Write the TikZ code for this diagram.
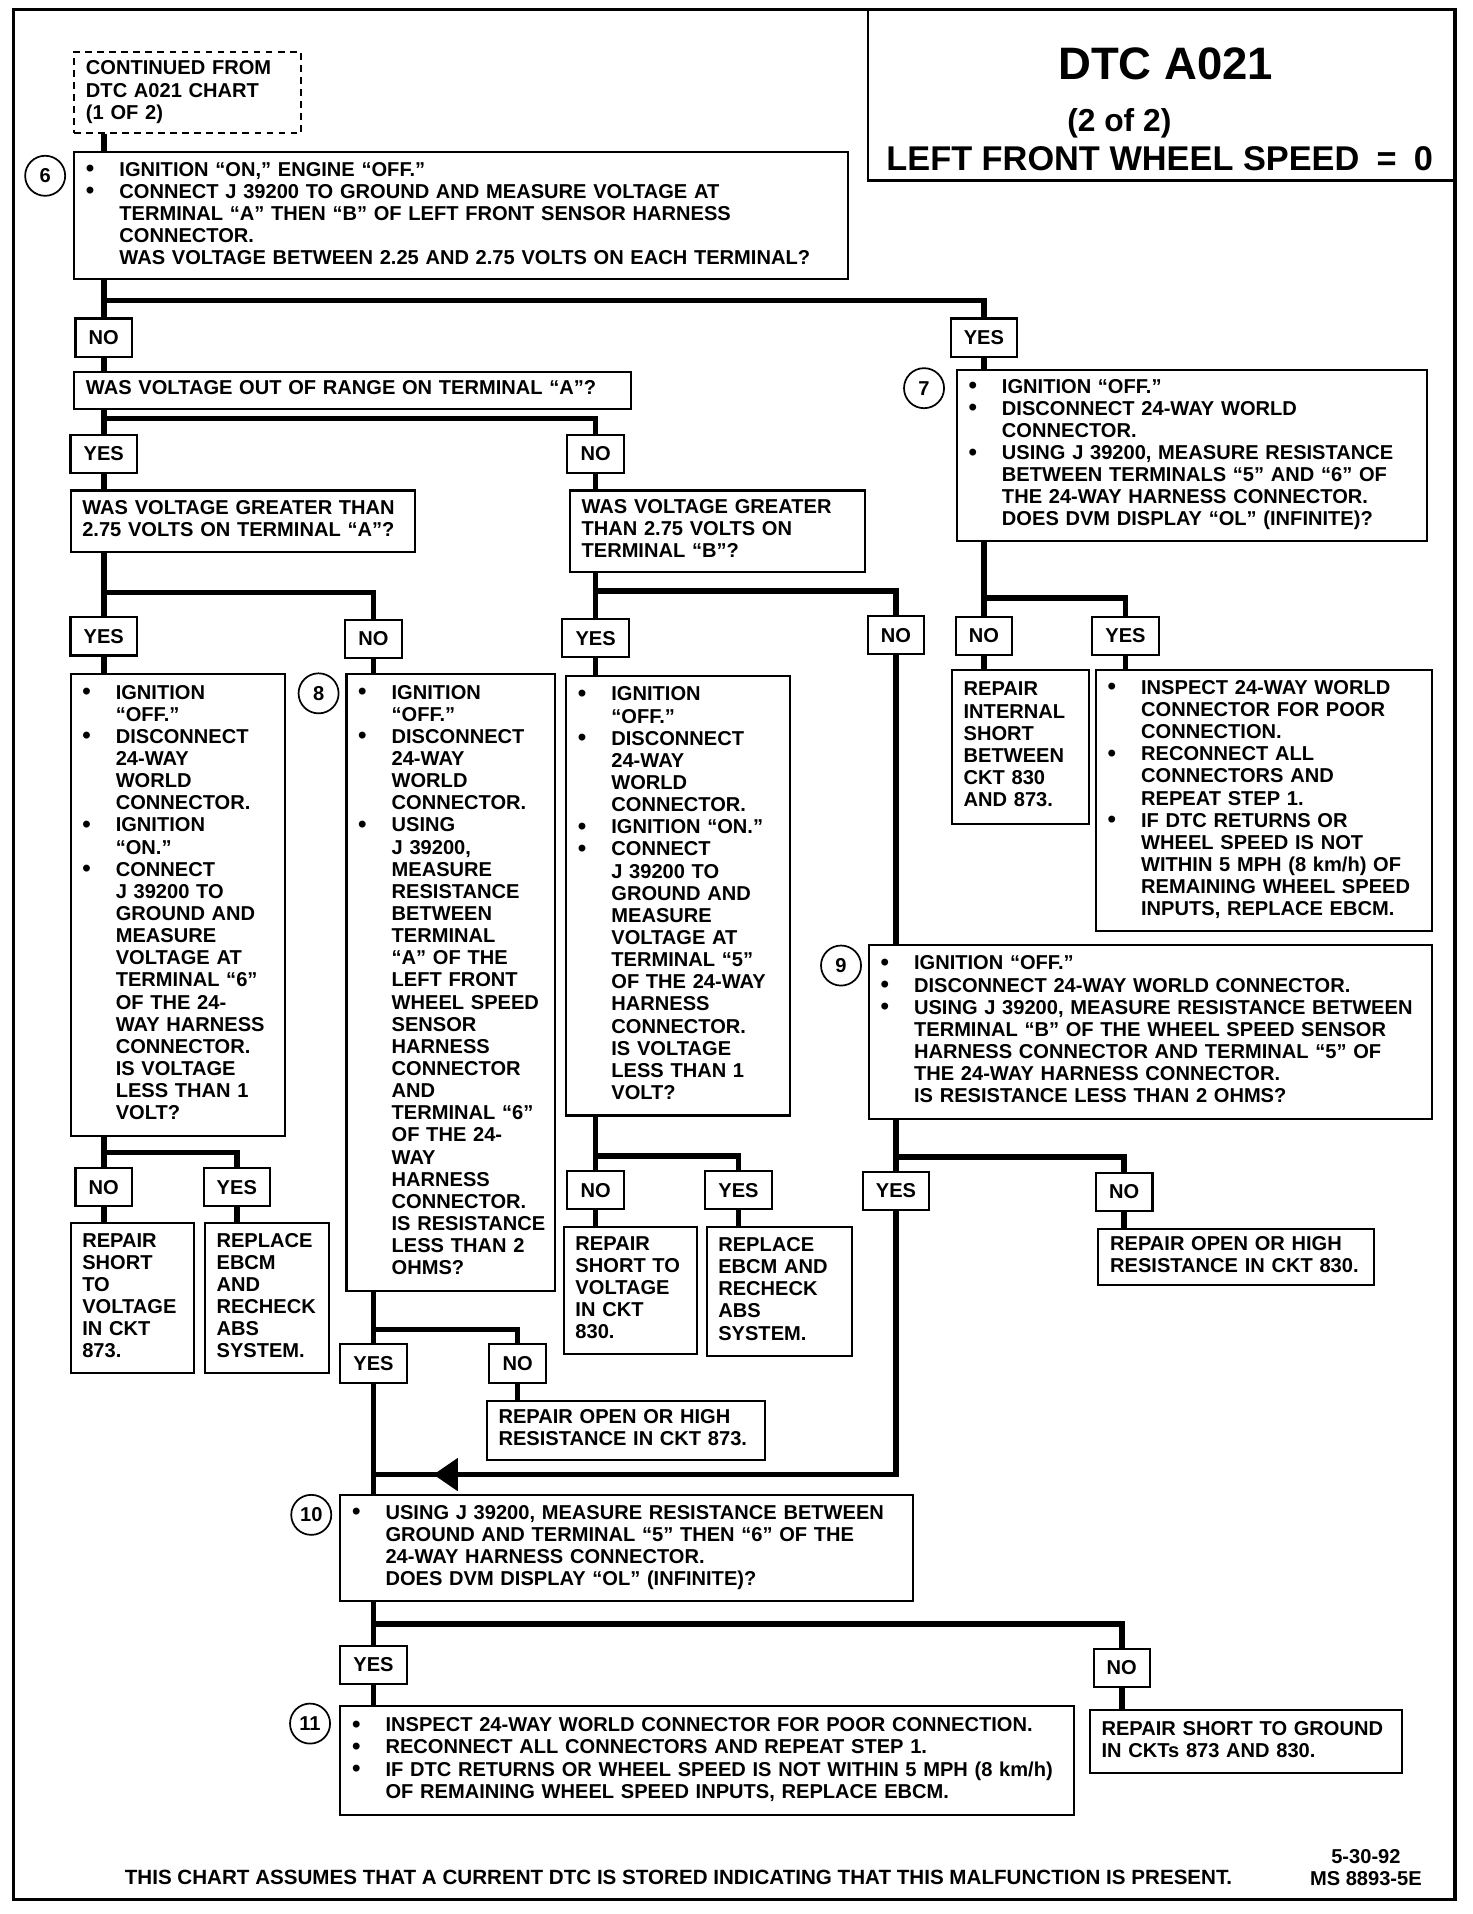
\documentclass[tikz,border=0pt]{standalone}
\usepackage{fontspec}
\setmainfont{Liberation Sans}
\usetikzlibrary{arrows.meta,backgrounds}

\newcommand{\chartfont}{\fontsize{11.7}{12.9}\selectfont\bfseries}
\newcommand{\bdot}{\raisebox{-0.3pt}{\fontsize{14}{12.9}\selectfont\textbullet}}
\newcommand{\steplist}[1]{\begin{tabular}{@{}p{0.685cm}@{}l@{}}#1\end{tabular}}
\newcommand{\txtlines}[1]{\begin{tabular}{@{}l@{}}#1\end{tabular}}

\begin{document}
\begin{tikzpicture}[x=0.025cm, y=-0.025cm,
  qbox/.style={draw, line width=1.2pt, fill=white, anchor=north west, align=left, inner xsep=0.24cm, inner ysep=0pt, font=\chartfont},
  bw/.style={/utils/exec={\pgfmathsetlengthmacro\boxtw{#1*0.025cm-0.48cm}}, text width=\boxtw},
  bh/.style={minimum height=#1*0.025cm},
  answer/.style={draw, line width=1.2pt, fill=white, font=\chartfont, minimum height=0.78cm, inner xsep=0.27cm, inner ysep=0pt},
  stepnum/.style={circle, draw, line width=1pt, minimum size=0.82cm, inner sep=0pt, font=\chartfont},
  flow/.style={line width=3.2pt},
  mergehead/.style={line width=3.2pt, -{Triangle[length=0.5cm, width=0.65cm]}},
  border/.style={line width=2pt},
  titletext/.style={anchor=base, inner sep=0pt, font=\bfseries}
]
\useasboundingbox (0,0) rectangle (1206,1568);

% frame and title block
\draw[border] (11,8) rectangle (1192,1556);
\draw[line width=1.5pt] (711,8) |- (1192,148);
\node[titletext, font=\fontsize{26.5}{30}\selectfont\bfseries] (ttl) at (955,65) {DTC A021};
\node[titletext, font=\fontsize{18.5}{21}\selectfont\bfseries] (ttlpart) at (917,108) {(2 of 2)};
\node[titletext, font=\fontsize{20}{23}\selectfont\bfseries] (ttlsub) at (950,140) {LEFT FRONT WHEEL SPEED\enspace=\enspace0};

% step 6
\node[qbox, dashed, dash pattern=on 4pt off 3pt, bw=186, bh=66] (cont) at (60,42) {\txtlines{CONTINUED FROM\\DTC A021 CHART\\(1 OF 2)}};
\node[qbox, bw=634, bh=104] (q6) at (60,124) {\steplist{%
\bdot & IGNITION “ON,” ENGINE “OFF.”\\
\bdot & CONNECT J 39200 TO GROUND AND MEASURE VOLTAGE AT\\
 & TERMINAL “A” THEN “B” OF LEFT FRONT SENSOR HARNESS\\
 & CONNECTOR.\\
 & WAS VOLTAGE BETWEEN 2.25 AND 2.75 VOLTS ON EACH TERMINAL?}};
\node[stepnum] (c6) at (37,144) {6};
\node[answer] (l6no) at (85,276.5) {NO};
\node[answer] (l6yes) at (806,276.5) {YES};

% terminal A or B
\node[qbox, bw=456, bh=30] (qa) at (60,304) {\txtlines{WAS VOLTAGE OUT OF RANGE ON TERMINAL “A”?}};
\node[answer] (layes) at (85,371.6) {YES};
\node[answer] (lano) at (488,371.6) {NO};
\node[qbox, bw=282, bh=50] (qga) at (57,401) {\txtlines{WAS VOLTAGE GREATER THAN\\2.75 VOLTS ON TERMINAL “A”?}};
\node[qbox, bw=242, bh=67] (qgb) at (466,401) {\txtlines{WAS VOLTAGE GREATER\\THAN 2.75 VOLTS ON\\TERMINAL “B”?}};
\node[answer] (lgayes) at (85,521.4) {YES};
\node[answer] (lgano) at (306,523.5) {NO};
\node[answer] (lgbyes) at (488,523) {YES};
\node[answer] (lgbno) at (734,520.5) {NO};

% step 7
\node[qbox, bw=385, bh=140] (q7) at (783,302) {\steplist{%
\bdot & IGNITION “OFF.”\\
\bdot & DISCONNECT 24-WAY WORLD\\
 & CONNECTOR.\\
\bdot & USING J 39200, MEASURE RESISTANCE\\
 & BETWEEN TERMINALS “5” AND “6” OF\\
 & THE 24-WAY HARNESS CONNECTOR.\\
 & DOES DVM DISPLAY “OL” (INFINITE)?}};
\node[stepnum] (c7) at (757,318) {7};
\node[answer] (l7no) at (806,520.7) {NO};
\node[answer] (l7yes) at (922,520.7) {YES};
\node[qbox, bw=112, bh=126] (r7no) at (779,548) {\txtlines{REPAIR\\INTERNAL\\SHORT\\BETWEEN\\CKT 830\\AND 873.}};
\node[qbox, bw=275, bh=214] (r7yes) at (897,548) {\steplist{%
\bdot & INSPECT 24-WAY WORLD\\
 & CONNECTOR FOR POOR\\
 & CONNECTION.\\
\bdot & RECONNECT ALL\\
 & CONNECTORS AND\\
 & REPEAT STEP 1.\\
\bdot & IF DTC RETURNS OR\\
 & WHEEL SPEED IS NOT\\
 & WITHIN 5 MPH (8 km/h) OF\\
 & REMAINING WHEEL SPEED\\
 & INPUTS, REPLACE EBCM.}};

% terminal 6 voltage
\node[qbox, bw=176, bh=379] (s1) at (57,551) {\steplist{%
\bdot & IGNITION\\
 & “OFF.”\\
\bdot & DISCONNECT\\
 & 24-WAY\\
 & WORLD\\
 & CONNECTOR.\\
\bdot & IGNITION\\
 & “ON.”\\
\bdot & CONNECT\\
 & J 39200 TO\\
 & GROUND AND\\
 & MEASURE\\
 & VOLTAGE AT\\
 & TERMINAL “6”\\
 & OF THE 24-\\
 & WAY HARNESS\\
 & CONNECTOR.\\
 & IS VOLTAGE\\
 & LESS THAN 1\\
 & VOLT?}};
\node[answer] (l1no) at (85,972.5) {NO};
\node[answer] (l1yes) at (194,972.5) {YES};
\node[qbox, bw=101, bh=123] (r1no) at (57,1001) {\txtlines{REPAIR\\SHORT\\TO\\VOLTAGE\\IN CKT\\873.}};
\node[qbox, bw=102, bh=123] (r1yes) at (167,1001) {\txtlines{REPLACE\\EBCM\\AND\\RECHECK\\ABS\\SYSTEM.}};

% step 8
\node[qbox, bw=171, bh=506] (q8) at (283,551) {\steplist{%
\bdot & IGNITION\\
 & “OFF.”\\
\bdot & DISCONNECT\\
 & 24-WAY\\
 & WORLD\\
 & CONNECTOR.\\
\bdot & USING\\
 & J 39200,\\
 & MEASURE\\
 & RESISTANCE\\
 & BETWEEN\\
 & TERMINAL\\
 & “A” OF THE\\
 & LEFT FRONT\\
 & WHEEL SPEED\\
 & SENSOR\\
 & HARNESS\\
 & CONNECTOR\\
 & AND\\
 & TERMINAL “6”\\
 & OF THE 24-\\
 & WAY\\
 & HARNESS\\
 & CONNECTOR.\\
 & IS RESISTANCE\\
 & LESS THAN 2\\
 & OHMS?}};
\node[stepnum] (c8) at (261,568) {8};
\node[answer] (l8yes) at (306,1117) {YES};
\node[answer] (l8no) at (424,1117) {NO};
\node[qbox, bw=228, bh=48] (r8no) at (398,1147) {\txtlines{REPAIR OPEN OR HIGH\\RESISTANCE IN CKT 873.}};

% terminal 5 voltage
\node[qbox, bw=183, bh=360] (s2) at (463,553) {\steplist{%
\bdot & IGNITION\\
 & “OFF.”\\
\bdot & DISCONNECT\\
 & 24-WAY\\
 & WORLD\\
 & CONNECTOR.\\
\bdot & IGNITION “ON.”\\
\bdot & CONNECT\\
 & J 39200 TO\\
 & GROUND AND\\
 & MEASURE\\
 & VOLTAGE AT\\
 & TERMINAL “5”\\
 & OF THE 24-WAY\\
 & HARNESS\\
 & CONNECTOR.\\
 & IS VOLTAGE\\
 & LESS THAN 1\\
 & VOLT?}};
\node[answer] (l2no) at (488,975) {NO};
\node[answer] (l2yes) at (605,975) {YES};
\node[qbox, bw=109, bh=104] (r2no) at (461,1004) {\txtlines{REPAIR\\SHORT TO\\VOLTAGE\\IN CKT\\830.}};
\node[qbox, bw=119, bh=106] (r2yes) at (578,1004) {\txtlines{REPLACE\\EBCM AND\\RECHECK\\ABS\\SYSTEM.}};

% step 9
\node[qbox, bw=461, bh=143] (q9) at (711,773) {\steplist{%
\bdot & IGNITION “OFF.”\\
\bdot & DISCONNECT 24-WAY WORLD CONNECTOR.\\
\bdot & USING J 39200, MEASURE RESISTANCE BETWEEN\\
 & TERMINAL “B” OF THE WHEEL SPEED SENSOR\\
 & HARNESS CONNECTOR AND TERMINAL “5” OF\\
 & THE 24-WAY HARNESS CONNECTOR.\\
 & IS RESISTANCE LESS THAN 2 OHMS?}};
\node[stepnum] (c9) at (689,791) {9};
\node[answer] (l9yes) at (734,975.5) {YES};
\node[answer] (l9no) at (921,976.5) {NO};
\node[qbox, bw=226, bh=46] (r9no) at (899,1006) {\txtlines{REPAIR OPEN OR HIGH\\RESISTANCE IN CKT 830.}};

% step 10 and 11
\node[qbox, bw=469, bh=87] (q10) at (278,1224) {\steplist{%
\bdot & USING J 39200, MEASURE RESISTANCE BETWEEN\\
 & GROUND AND TERMINAL “5” THEN “6” OF THE\\
 & 24-WAY HARNESS CONNECTOR.\\
 & DOES DVM DISPLAY “OL” (INFINITE)?}};
\node[stepnum] (c10) at (255,1241) {10};
\node[answer] (l10yes) at (306,1363.7) {YES};
\node[answer] (l10no) at (919,1366.5) {NO};
\node[qbox, bw=601, bh=89] (q11) at (278,1397) {\steplist{%
\bdot & INSPECT 24-WAY WORLD CONNECTOR FOR POOR CONNECTION.\\
\bdot & RECONNECT ALL CONNECTORS AND REPEAT STEP 1.\\
\bdot & IF DTC RETURNS OR WHEEL SPEED IS NOT WITHIN 5 MPH (8 km/h)\\
 & OF REMAINING WHEEL SPEED INPUTS, REPLACE EBCM.}};
\node[stepnum] (c11) at (254,1412) {11};
\node[qbox, bw=256, bh=52] (r10no) at (892,1400) {\txtlines{REPAIR SHORT TO GROUND\\IN CKTs 873 AND 830.}};

% footer
\node[anchor=base west, inner sep=0pt, font=\fontsize{12}{13}\selectfont\bfseries] (note) at (102,1544) {THIS CHART ASSUMES THAT A CURRENT DTC IS STORED INDICATING THAT THIS MALFUNCTION IS PRESENT.};
\node[anchor=base, inner sep=0pt, font=\chartfont] (date) at (1119,1527) {5-30-92};
\node[anchor=base, inner sep=0pt, font=\chartfont] (msno) at (1119,1545) {MS 8893-5E};

% branch points
\coordinate (b6) at (85,246);
\coordinate (ba) at (85,343);
\coordinate (bA) at (85,485.5);
\coordinate (bB) at (488,484);
\coordinate (b7) at (806,490);
\coordinate (b1) at (85,944);
\coordinate (b8) at (306,1089);
\coordinate (b2) at (488,947);
\coordinate (b9) at (734,948);
\coordinate (merge) at (306,1208);
\coordinate (tipend) at (355,1208);
\coordinate (tipbase) at (400,1208);
\coordinate (b10) at (306,1330.5);

\begin{scope}[on background layer]
\draw[flow] (cont.south -| b6) -- (q6.north -| b6);
\draw[flow] (q6.south -| b6) -- (l6no.north);
\draw[flow] (b6) -| (l6yes.north);
\draw[flow] (l6no.south) -- (qa.north -| l6no);
\draw[flow] (l6yes.south) -- (q7.north -| l6yes);

\draw[flow] (qa.south -| ba) -- (layes.north);
\draw[flow] (ba) -| (lano.north);
\draw[flow] (layes.south) -- (qga.north -| layes);
\draw[flow] (lano.south) -- (qgb.north -| lano);

\draw[flow] (qga.south -| bA) -- (lgayes.north);
\draw[flow] (bA) -| (lgano.north);
\draw[flow] (lgayes.south) -- (s1.north -| lgayes);
\draw[flow] (lgano.south) -- (q8.north -| lgano);

\draw[flow] (qgb.south -| bB) -- (lgbyes.north);
\draw[flow] (bB) -| (lgbno.north);
\draw[flow] (lgbyes.south) -- (s2.north -| lgbyes);
\draw[flow] (lgbno.south) -- (q9.north -| lgbno);

\draw[flow] (q7.south -| b7) -- (l7no.north);
\draw[flow] (b7) -| (l7yes.north);
\draw[flow] (l7no.south) -- (r7no.north -| l7no);
\draw[flow] (l7yes.south) -- (r7yes.north -| l7yes);

\draw[flow] (s1.south -| b1) -- (l1no.north);
\draw[flow] (b1) -| (l1yes.north);
\draw[flow] (l1no.south) -- (r1no.north -| l1no);
\draw[flow] (l1yes.south) -- (r1yes.north -| l1yes);

\draw[flow] (q8.south -| b8) -- (l8yes.north);
\draw[flow] (b8) -| (l8no.north);
\draw[flow] (l8yes.south) -- (q10.north -| l8yes);
\draw[flow] (l8no.south) -- (r8no.north -| l8no);

\draw[flow] (s2.south -| b2) -- (l2no.north);
\draw[flow] (b2) -| (l2yes.north);
\draw[flow] (l2no.south) -- (r2no.north -| l2no);
\draw[flow] (l2yes.south) -- (r2yes.north -| l2yes);

\draw[flow] (q9.south -| b9) -- (l9yes.north);
\draw[flow] (b9) -| (l9no.north);
\draw[flow] (l9no.south) -- (r9no.north -| l9no);
\draw[flow] (l9yes.south) |- (merge);
\draw[mergehead] (tipbase) -- (tipend);

\draw[flow] (q10.south -| b10) -- (l10yes.north);
\draw[flow] (b10) -| (l10no.north);
\draw[flow] (l10yes.south) -- (q11.north -| l10yes);
\draw[flow] (l10no.south) -- (r10no.north -| l10no);
\end{scope}
\end{tikzpicture}
\end{document}
